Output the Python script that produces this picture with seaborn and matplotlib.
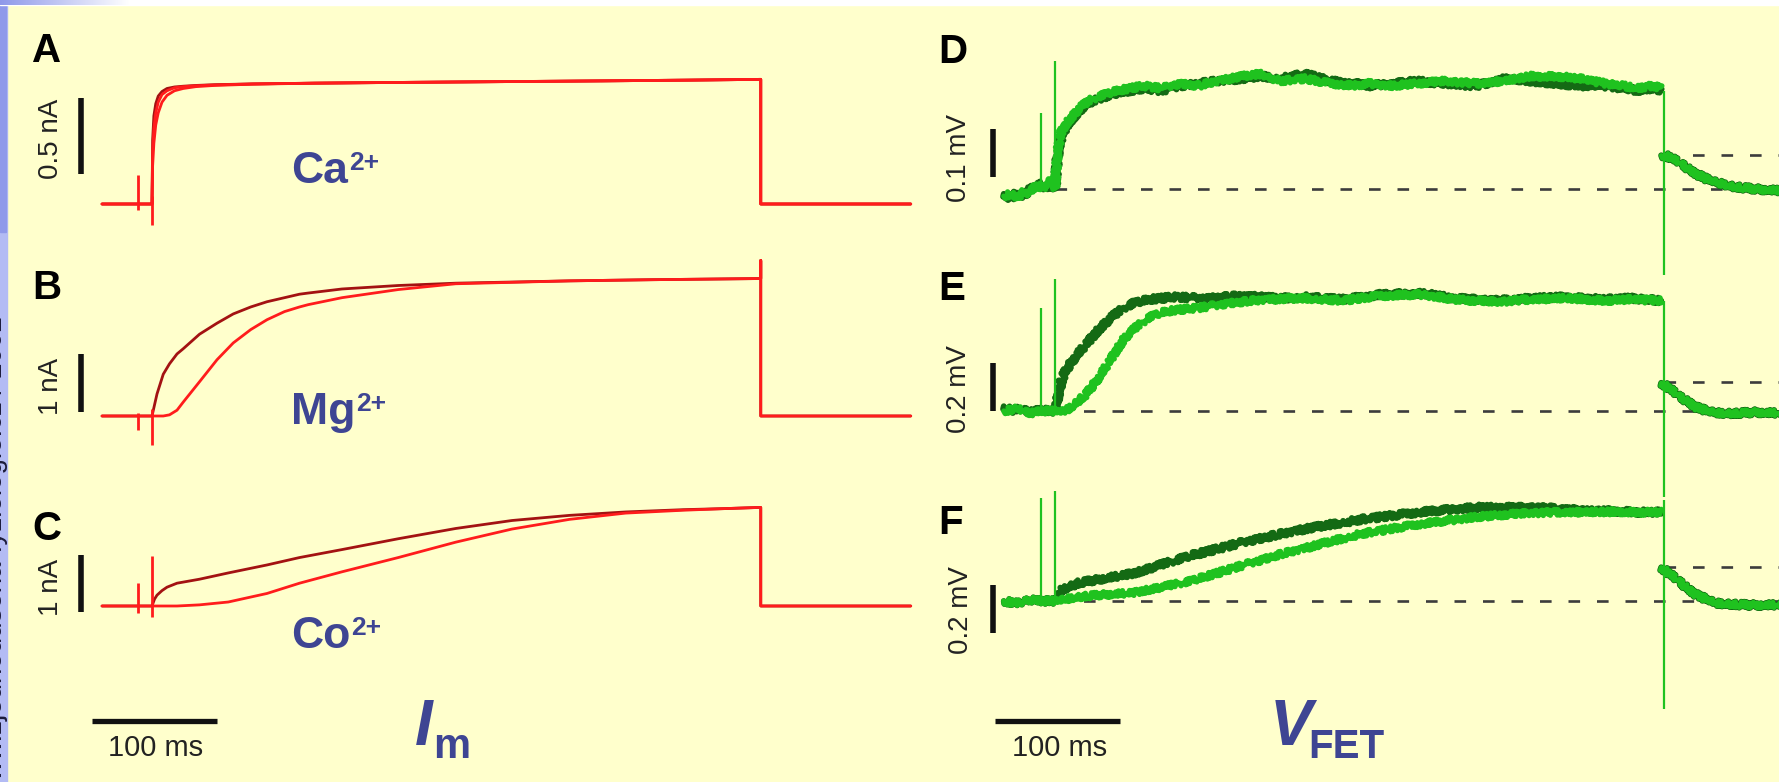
import numpy as np
import pandas as pd
import seaborn as sns
import matplotlib.pyplot as plt
from matplotlib.patches import Rectangle
from matplotlib.colors import LinearSegmentedColormap
from matplotlib import transforms

# ---------------------------------------------------------------- data
# time in ms relative to the start of the voltage pulse (pulse lasts ~487 ms)
PULSE_END = 487
STIM_TIMES = [-11, 0]          # stimulus artefacts

# membrane current, nA  (left column)
t_A = [-40, -1, 0, 0.5, 1.5, 3, 5, 8, 12, 18, 25, 35, 50, 80, 130, 200, 280, 360, 430, 487, 487, 607]
ca_fast = [0, 0, 0, 0.42, 0.58, 0.66, 0.71, 0.74, 0.76, 0.77, 0.775, 0.78, 0.785, 0.79, 0.795, 0.80, 0.805, 0.81, 0.815, 0.82, 0, 0]
ca_mid = [0, 0, 0, 0.35, 0.50, 0.60, 0.67, 0.72, 0.745, 0.765, 0.772, 0.778, 0.783, 0.79, 0.795, 0.80, 0.805, 0.81, 0.815, 0.82, 0, 0]
ca_slow = [0, 0, 0, 0.25, 0.40, 0.52, 0.60, 0.67, 0.715, 0.745, 0.76, 0.772, 0.78, 0.788, 0.795, 0.80, 0.805, 0.81, 0.815, 0.82, 0, 0]
ca_art_lo = [-0.04, -0.14]
ca_art_hi = [0.19, 0.05]

t_B = [-40, 0, 4, 9, 14, 20, 25, 38, 52, 65, 79, 92, 106, 118, 125, 152, 197, 243, 334, 400, 487, 487, 487, 607]
mg_fast = [0, 0, 0.38, 0.72, 0.90, 1.07, 1.16, 1.41, 1.60, 1.76, 1.88, 1.97, 2.04, 2.10, 2.12, 2.19, 2.25, 2.29, 2.33, 2.35, 2.37, 2.68, 0, 0]
mg_slow = [0, 0, 0, 0, 0.02, 0.10, 0.24, 0.59, 0.97, 1.26, 1.49, 1.66, 1.80, 1.88, 1.92, 2.04, 2.18, 2.28, 2.33, 2.35, 2.37, 2.68, 0, 0]
mg_art_lo = [-0.24, -0.50]
mg_art_hi = [0.06, 0.12]

t_C = [-40, 0, 2, 4, 8, 12, 20, 38, 61, 92, 118, 152, 197, 243, 288, 334, 379, 425, 460, 487, 487, 607]
co_fast = [0, 0, 0.12, 0.19, 0.27, 0.33, 0.40, 0.47, 0.58, 0.72, 0.85, 0.99, 1.18, 1.36, 1.50, 1.59, 1.65, 1.69, 1.71, 1.73, 0, 0]
co_slow = [0, 0, 0, 0, 0, 0, 0, 0.02, 0.07, 0.22, 0.40, 0.60, 0.85, 1.12, 1.35, 1.52, 1.63, 1.68, 1.71, 1.73, 0, 0]
co_art_lo = [-0.12, -0.20]
co_art_hi = [0.40, 0.88]

# FET voltage, mV  (right column)
t_D = [-41, -35, -30, -25, -20, -15, -11, -6, -2, 0, 2, 5, 10, 15, 20, 28, 37, 50, 60, 71, 85, 100, 115,
       130, 150, 165, 180, 200, 220, 240, 251, 270, 290, 310, 337, 360, 380, 401, 420, 440, 455, 466, 478, 485]
fet_D_dark = [-0.01, -0.02, -0.005, -0.015, 0.0, 0.005, 0.01, 0.0, 0.02, 0.0, 0.07, 0.11, 0.135, 0.15, 0.165,
              0.18, 0.19, 0.20, 0.205, 0.21, 0.205, 0.215, 0.22, 0.225, 0.23, 0.235, 0.23, 0.24, 0.225, 0.22,
              0.215, 0.22, 0.225, 0.22, 0.215, 0.23, 0.225, 0.22, 0.215, 0.215, 0.21, 0.205, 0.21, 0.205]
fet_D_light = [-0.015, -0.01, -0.02, -0.005, -0.01, 0.01, 0.0, 0.01, 0.025, 0.0, 0.08, 0.12, 0.14, 0.155, 0.17,
               0.185, 0.195, 0.205, 0.21, 0.215, 0.21, 0.22, 0.215, 0.225, 0.235, 0.24, 0.225, 0.23, 0.22, 0.215,
               0.22, 0.215, 0.22, 0.225, 0.22, 0.225, 0.235, 0.235, 0.23, 0.22, 0.215, 0.21, 0.215, 0.21]
t_D_after = [485, 488, 492, 500, 510, 522, 535, 545, 560, 580, 600]
fet_D_after = [0.07, 0.07, 0.066, 0.055, 0.035, 0.02, 0.01, 0.004, 0.0, -0.003, 0.0]
fet_D_art = [0.158, 0.267]
fet_D_off = (0.205, -0.18)
fet_D_step = 0.07

t_E_dark = [-41, -35, -28, -20, -11, -5, 0, 3, 6, 10, 16, 25, 35, 45, 55, 63, 75, 95, 120, 150, 180, 200,
            230, 260, 294, 320, 354, 380, 410, 440, 460, 485]
fet_E_dark = [0.02, 0.0, 0.01, -0.005, 0.005, 0.0, 0.0, 0.08, 0.14, 0.18, 0.225, 0.28, 0.34, 0.39, 0.43, 0.45,
              0.465, 0.475, 0.47, 0.48, 0.47, 0.475, 0.465, 0.485, 0.49, 0.47, 0.46, 0.47, 0.475, 0.465, 0.47, 0.46]
t_E_light = [-41, -30, -20, -11, 0, 8, 16, 25, 35, 45, 55, 65, 75, 85, 95, 115, 140, 170, 200, 230, 260,
             294, 320, 354, 380, 410, 440, 460, 485]
fet_E_light = [0.0, 0.01, -0.01, 0.0, 0.0, 0.0, 0.03, 0.07, 0.14, 0.22, 0.30, 0.35, 0.39, 0.41, 0.42, 0.43,
               0.45, 0.465, 0.47, 0.46, 0.48, 0.485, 0.465, 0.455, 0.465, 0.47, 0.46, 0.465, 0.46]
t_E_after = [485, 490, 500, 512, 522, 532, 545, 560, 580, 600]
fet_E_after = [0.117, 0.10, 0.06, 0.017, 0.0, -0.008, -0.01, -0.005, -0.008, -0.005]
fet_E_art = [0.43, 0.55]
fet_E_off = (0.46, -0.36)
fet_E_step = 0.12

t_F_dark = [-41, -30, -20, -11, 0, 6, 19, 40, 64, 87, 109, 132, 154, 177, 200, 222, 245, 268, 291, 314,
            336, 360, 381, 404, 427, 450, 470, 485]
fet_F_dark = [0.0, -0.01, 0.005, 0.0, 0.0, 0.05, 0.075, 0.095, 0.117, 0.155, 0.19, 0.22, 0.25, 0.275, 0.30,
              0.32, 0.34, 0.355, 0.37, 0.38, 0.39, 0.39, 0.39, 0.385, 0.375, 0.375, 0.37, 0.37]
t_F_light = [-41, -30, -20, -11, 0, 15, 35, 64, 87, 109, 132, 154, 177, 200, 222, 245, 268, 291, 314,
             336, 360, 381, 404, 427, 450, 470, 485]
fet_F_light = [0.0, -0.01, 0.005, 0.0, 0.0, 0.015, 0.025, 0.036, 0.06, 0.084, 0.12, 0.155, 0.19, 0.22, 0.25,
               0.28, 0.30, 0.32, 0.335, 0.35, 0.36, 0.367, 0.37, 0.37, 0.372, 0.37, 0.37]
t_F_after = [485, 490, 500, 507, 515, 529, 545, 560, 580, 600]
fet_F_after = [0.14, 0.12, 0.08, 0.046, 0.02, -0.008, -0.015, -0.017, -0.015, -0.017]
fet_F_art = [0.43, 0.46]
fet_F_off = (0.42, -0.45)
fet_F_step = 0.14

ion_labels = [("Ca", "2+"), ("Mg", "2+"), ("Co", "2+")]
current_bars = [(0.5, "0.5 nA"), (1.0, "1 nA"), (1.0, "1 nA")]
voltage_bars = [(0.1, "0.1 mV"), (0.2, "0.2 mV"), (0.2, "0.2 mV")]
time_bar = (100, "100 ms")

# ---------------------------------------------------------------- style
sns.set_style("white")
plt.rcParams["font.family"] = ["Liberation Sans", "DejaVu Sans"]

BG = "#ffffcc"
RED, DARK_RED = "#ff1c1c", "#a31212"
GREEN, DARK_GREEN = "#1fc21f", "#146a14"
NAVY = "#3e4593"
INK = "#222222"

W, H = 1779, 782
fig = plt.figure(figsize=(W / 100, H / 100), dpi=100, facecolor=BG)
PX_PER_MS = 1.25


def fbox(left, top, right, bottom):
    return [left / W, 1 - bottom / H, (right - left) / W, (bottom - top) / H]


def ftext(x, y, s, **kw):
    return fig.text(x / W, 1 - y / H, s, **kw)


def panel(left, right, onset_px, top, bottom, base_px, px_per_unit):
    ax = fig.add_axes(fbox(left, top, right, bottom))
    ax.set_xlim((left - onset_px) / PX_PER_MS, (right - onset_px) / PX_PER_MS)
    ax.set_ylim(-(bottom - base_px) / px_per_unit, (base_px - top) / px_per_unit)
    ax.axis("off")
    ax.patch.set_alpha(0)
    return ax


def trace(ax, t, v, color, lw, z=2, noisy=False):
    sns.lineplot(x=t, y=v, ax=ax, color=color, linewidth=lw, estimator=None,
                 sort=False, legend=False, zorder=z)
    line = ax.lines[-1]
    if noisy:
        # recording noise rendered as a rough stroke
        line.set_sketch_params(scale=3.0, length=2.5, randomness=2.0)
    return line


# frame decorations of the slide
fig.add_artist(Rectangle((0, 0), 7 / W, 1, transform=fig.transFigure, color="#b3bbf4", zorder=0))
fig.add_artist(Rectangle((0, 1 - 232 / H), 6 / W, 232 / H, transform=fig.transFigure, color="#8f99ea", zorder=0))
fig.add_artist(Rectangle((0, 1 - 5 / H), 1, 5 / H, transform=fig.transFigure, color="white", zorder=0))
grad_ax = fig.add_axes([0, 1 - 5 / H, 130 / W, 5 / H])
grad_ax.imshow(np.linspace(0, 1, 64)[None, :],
               cmap=LinearSegmentedColormap.from_list("edge", ["#8f99ea", "#ffffff"]), aspect="auto")
grad_ax.axis("off")
ftext(8, 800, "www.zjednodusena-fyziologie.cz / 2002", rotation=90, ha="right", va="bottom",
      fontsize=20, color="#1b1b3a")

# ---------------------------------------------------------------- left column: I_m
L_ONSET = 152
left_panels = [
    dict(top=40, bottom=240, base=204, ppu=152, t=t_A, traces=[ca_fast, ca_mid, ca_slow],
         colors=[DARK_RED, RED, RED], lo=ca_art_lo, hi=ca_art_hi, bar_lo=0.2, letter=("A", 62), lab_y=139,
         ion_y=183),
    dict(top=230, bottom=460, base=416, ppu=58, t=t_B, traces=[mg_fast, mg_slow],
         colors=[DARK_RED, RED], lo=mg_art_lo, hi=mg_art_hi, bar_lo=0.07, letter=("B", 299), lab_y=386,
         ion_y=424),
    dict(top=470, bottom=660, base=606, ppu=57, t=t_C, traces=[co_fast, co_slow],
         colors=[DARK_RED, RED], lo=co_art_lo, hi=co_art_hi, bar_lo=-0.1, letter=("C", 540), lab_y=587,
         ion_y=648),
]

bar_x_left = (81 - L_ONSET) / PX_PER_MS
for p, (bar_len, bar_lab), (ion, charge) in zip(left_panels, current_bars, ion_labels):
    ax = panel(20, 930, L_ONSET, p["top"], p["bottom"], p["base"], p["ppu"])
    for vals, col in zip(p["traces"], p["colors"]):
        trace(ax, p["t"], vals, col, 2.0)
    ax.vlines(STIM_TIMES, p["lo"], p["hi"], color=RED, lw=2.0, zorder=3)
    ax.plot([bar_x_left, bar_x_left], [p["bar_lo"], p["bar_lo"] + bar_len], color="#111111",
            lw=4.0, solid_capstyle="butt", clip_on=False)
    ftext(32, p["letter"][1], p["letter"][0], fontsize=29, fontweight="bold", va="baseline", color="black")
    ftext(51, p["lab_y"], bar_lab, rotation=90, ha="center", va="center", fontsize=20, color=INK)
    p["ax"] = ax

# ---------------------------------------------------------------- right column: V_FET
R_ONSET = 1055
right_panels = [
    dict(top=40, bottom=290, base=189, ppu=480, dark=(t_D, fet_D_dark), light=(t_D, fet_D_light),
         after=(t_D_after, fet_D_after), art=fet_D_art, off=fet_D_off, step=fet_D_step, bar_lo=0.025,
         letter=("D", 63), lab=(959, 158)),
    dict(top=240, bottom=510, base=411, ppu=240, dark=(t_E_dark, fet_E_dark), light=(t_E_light, fet_E_light),
         after=(t_E_after, fet_E_after), art=fet_E_art, off=fet_E_off, step=fet_E_step, bar_lo=0.0,
         letter=("E", 300), lab=(959, 389)),
    dict(top=470, bottom=720, base=601, ppu=240, dark=(t_F_dark, fet_F_dark), light=(t_F_light, fet_F_light),
         after=(t_F_after, fet_F_after), art=fet_F_art, off=fet_F_off, step=fet_F_step, bar_lo=-0.133,
         letter=("F", 534), lab=(961, 610)),
]

bar_x_right = (993 - R_ONSET) / PX_PER_MS
for p, (bar_len, bar_lab) in zip(right_panels, voltage_bars):
    ax = panel(930, 1800, R_ONSET, p["top"], p["bottom"], p["base"], p["ppu"])
    t_end = ax.get_xlim()[1]
    dash = (0, (4.4, 6.4))
    ax.plot([0, t_end], [0, 0], color="#3c3c3c", lw=1.9, ls=dash, zorder=1)
    ax.plot([PULSE_END, t_end], [p["step"], p["step"]], color="#3c3c3c", lw=1.9, ls=dash, zorder=1)
    trace(ax, *p["dark"], DARK_GREEN, 4.2, z=2, noisy=True)
    trace(ax, *p["light"], GREEN, 3.8, z=3, noisy=True)
    trace(ax, *p["after"], DARK_GREEN, 4.4, z=2, noisy=True)
    trace(ax, *p["after"], GREEN, 3.4, z=3, noisy=True)
    ax.vlines(STIM_TIMES, [0, 0], p["art"], color=GREEN, lw=1.6, zorder=4)
    ax.vlines([PULSE_END], p["off"][1], p["off"][0], color=GREEN, lw=1.6, zorder=4)
    ax.plot([bar_x_right, bar_x_right], [p["bar_lo"], p["bar_lo"] + bar_len], color="#111111",
            lw=4.0, solid_capstyle="butt", clip_on=False)
    ftext(938, p["letter"][1], p["letter"][0], fontsize=29, fontweight="bold", va="baseline", color="black")
    ftext(p["lab"][0], p["lab"][1], bar_lab, rotation=90, ha="center", va="center", fontsize=20, color=INK)
    p["ax"] = ax

# ---------------------------------------------------------------- time scale bars
for ax, x_lab in [(left_panels[2]["ax"], 156), (right_panels[2]["ax"], 1060)]:
    tr = transforms.blended_transform_factory(ax.transData, fig.transFigure)
    ax.plot([-48, -48 + time_bar[0]], [1 - 721 / H] * 2, transform=tr, color="#111111", lw=3.8,
            solid_capstyle="butt", clip_on=False)
    ftext(x_lab, 748, time_bar[1], ha="center", va="center", fontsize=21, color=INK)

# ---------------------------------------------------------------- ion labels
fig.canvas.draw()
renderer = fig.canvas.get_renderer()
for p, (ion, charge) in zip(left_panels, ion_labels):
    main = ftext(291, p["ion_y"], ion, fontsize=32, fontweight="bold", color=NAVY, va="baseline")
    bb = main.get_window_extent(renderer)
    fig.text(bb.x1 / W + 1 / W, 1 - (p["ion_y"] - 13) / H, charge, fontsize=19, fontweight="bold",
             color=NAVY, va="baseline")

# axis titles
ftext(415, 745, "I", fontsize=46, fontweight="bold", fontstyle="italic", color=NAVY, va="baseline")
ftext(433, 758, "m", fontsize=30, fontweight="bold", color=NAVY, va="baseline")
ftext(1270, 745, "V", fontsize=46, fontweight="bold", fontstyle="italic", color=NAVY, va="baseline")
ftext(1308, 758, "FET", fontsize=29, fontweight="bold", color=NAVY, va="baseline")

fig.savefig("out.png", dpi=100, facecolor=BG)
